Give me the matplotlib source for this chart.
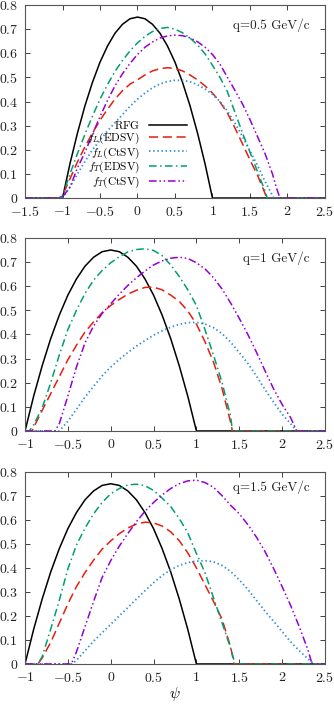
import matplotlib
matplotlib.use('Agg')
import matplotlib.pyplot as plt
import matplotlib.ticker as mticker
import numpy as np

plt.rcParams['font.family'] = ['cmr10', 'DejaVu Serif']
plt.rcParams['mathtext.fontset'] = 'cm'
plt.rcParams['axes.formatter.use_mathtext'] = True
plt.rcParams['axes.unicode_minus'] = False

# ---- data ----
# RFG scaling function (same in all panels)
RFG_PSI = [-1.0, -0.9, -0.8, -0.7, -0.6, -0.5, -0.4, -0.3, -0.2, -0.1, 0.0,
           0.1, 0.2, 0.3, 0.4, 0.5, 0.6, 0.7, 0.8, 0.9, 1.0]
RFG_F = [0.0, 0.143, 0.27, 0.383, 0.48, 0.563, 0.63, 0.683, 0.72, 0.743, 0.75,
         0.743, 0.72, 0.683, 0.63, 0.563, 0.48, 0.383, 0.27, 0.143, 0.0]

# q = 0.5 GeV/c
Q05_FLE_PSI = [-1.05, -1.0, -0.9, -0.8, -0.7, -0.6, -0.5, -0.4, -0.3, -0.2, -0.1, 0.0, 0.1, 0.2,
               0.3, 0.4, 0.5, 0.6, 0.7, 0.8, 0.9, 1.0, 1.1, 1.2, 1.3, 1.4, 1.5, 1.6, 1.7, 1.72]
Q05_FLE = [0.0, 0.01, 0.08, 0.15, 0.213, 0.27, 0.322, 0.368, 0.41, 0.445, 0.472, 0.49, 0.51, 0.527,
           0.536, 0.54, 0.537, 0.527, 0.51, 0.49, 0.465, 0.435, 0.398, 0.352, 0.29, 0.225, 0.158,
           0.095, 0.02, 0.0]
Q05_FLC_PSI = [-1.0, -0.9, -0.8, -0.7, -0.6, -0.5, -0.4, -0.3, -0.2, -0.1, 0.0, 0.1, 0.2, 0.3,
               0.4, 0.5, 0.6, 0.7, 0.8, 0.9, 1.0, 1.1, 1.2, 1.3, 1.4, 1.5, 1.6, 1.7, 1.8, 1.82]
Q05_FLC = [0.0, 0.045, 0.1, 0.152, 0.2, 0.24, 0.278, 0.312, 0.346, 0.38, 0.41, 0.435, 0.457, 0.473,
           0.483, 0.488, 0.488, 0.482, 0.47, 0.452, 0.43, 0.4, 0.36, 0.31, 0.255, 0.195, 0.135,
           0.07, 0.01, 0.0]
Q05_FTE_PSI = [-1.03, -1.0, -0.9, -0.8, -0.7, -0.6, -0.5, -0.4, -0.3, -0.2, -0.1, 0.0, 0.1, 0.2,
               0.3, 0.4, 0.5, 0.6, 0.7, 0.8, 0.9, 1.0, 1.1, 1.2, 1.3, 1.4, 1.5, 1.6, 1.7, 1.73]
Q05_FTE = [0.0, 0.01, 0.1, 0.185, 0.265, 0.34, 0.41, 0.47, 0.525, 0.57, 0.61, 0.643, 0.67, 0.69,
           0.703, 0.707, 0.7, 0.685, 0.663, 0.635, 0.598, 0.55, 0.5, 0.44, 0.355, 0.27, 0.19,
           0.11, 0.03, 0.0]
Q05_FTC_PSI = [-1.05, -1.0, -0.9, -0.8, -0.7, -0.6, -0.5, -0.4, -0.3, -0.2, -0.1, 0.0, 0.1, 0.2,
               0.3, 0.4, 0.5, 0.6, 0.7, 0.8, 0.9, 1.0, 1.1, 1.2, 1.3, 1.4, 1.5, 1.6, 1.7, 1.8,
               1.85, 1.9]
Q05_FTC = [0.0, 0.005, 0.045, 0.125, 0.19, 0.265, 0.337, 0.405, 0.465, 0.515, 0.558, 0.595,
           0.625, 0.647, 0.663, 0.672, 0.675, 0.673, 0.664, 0.648, 0.625, 0.595, 0.555, 0.5,
           0.446, 0.39, 0.325, 0.255, 0.185, 0.1, 0.045, 0.0]

# q = 1 GeV/c
Q1_FLE_PSI = [-0.92, -0.8, -0.7, -0.6, -0.5, -0.4, -0.3, -0.2, -0.1, 0.0, 0.1, 0.2, 0.3, 0.4,
              0.5, 0.6, 0.7, 0.8, 0.9, 1.0, 1.1, 1.2, 1.3, 1.4, 1.42]
Q1_FLE = [0.0, 0.085, 0.155, 0.225, 0.295, 0.355, 0.41, 0.452, 0.49, 0.52, 0.545, 0.567, 0.583,
          0.595, 0.596, 0.585, 0.563, 0.537, 0.497, 0.443, 0.37, 0.285, 0.175, 0.035, 0.0]
Q1_FLC_PSI = [-0.6, -0.5, -0.4, -0.3, -0.2, -0.1, 0.0, 0.1, 0.2, 0.3, 0.4, 0.5, 0.6, 0.7, 0.8,
              0.9, 1.0, 1.1, 1.2, 1.3, 1.4, 1.5, 1.6, 1.7, 1.8, 1.9, 2.0, 2.1, 2.17]
Q1_FLC = [0.0, 0.04, 0.09, 0.14, 0.185, 0.228, 0.265, 0.297, 0.325, 0.352, 0.375, 0.397, 0.415,
          0.43, 0.442, 0.449, 0.45, 0.443, 0.428, 0.403, 0.368, 0.325, 0.28, 0.228, 0.172, 0.12,
          0.07, 0.03, 0.0]
Q1_FTE_PSI = [-0.95, -0.9, -0.8, -0.7, -0.6, -0.5, -0.4, -0.3, -0.2, -0.1, 0.0, 0.1, 0.2, 0.3,
              0.4, 0.5, 0.6, 0.7, 0.8, 0.9, 1.0, 1.1, 1.2, 1.3, 1.4, 1.42]
Q1_FTE = [0.0, 0.025, 0.095, 0.2, 0.315, 0.42, 0.5, 0.57, 0.625, 0.665, 0.697, 0.722, 0.742,
          0.752, 0.755, 0.748, 0.727, 0.688, 0.64, 0.585, 0.52, 0.42, 0.314, 0.2, 0.06, 0.0]
Q1_FTC_PSI = [-0.65, -0.6, -0.5, -0.4, -0.3, -0.2, -0.1, 0.0, 0.1, 0.2, 0.3, 0.4, 0.5, 0.6, 0.7,
              0.8, 0.9, 1.0, 1.1, 1.2, 1.3, 1.4, 1.5, 1.6, 1.7, 1.8, 1.9, 2.0, 2.1, 2.17]
Q1_FTC = [0.0, 0.03, 0.145, 0.265, 0.365, 0.435, 0.487, 0.527, 0.567, 0.603, 0.635, 0.663, 0.688,
          0.705, 0.716, 0.72, 0.715, 0.697, 0.672, 0.635, 0.588, 0.53, 0.467, 0.4, 0.327, 0.25,
          0.175, 0.11, 0.055, 0.0]

# q = 1.5 GeV/c
Q15_FLE_PSI = [-0.85, -0.8, -0.7, -0.6, -0.5, -0.4, -0.3, -0.2, -0.1, 0.0, 0.1, 0.2, 0.3, 0.4,
               0.5, 0.6, 0.7, 0.8, 0.9, 1.0, 1.1, 1.2, 1.3, 1.4, 1.44]
Q15_FLE = [0.0, 0.025, 0.09, 0.17, 0.25, 0.322, 0.38, 0.432, 0.478, 0.512, 0.542, 0.566, 0.582,
           0.59, 0.587, 0.574, 0.55, 0.513, 0.462, 0.4, 0.33, 0.26, 0.185, 0.07, 0.0]
Q15_FLC_PSI = [-0.45, -0.4, -0.3, -0.2, -0.1, 0.0, 0.1, 0.2, 0.3, 0.4, 0.5, 0.6, 0.7, 0.8, 0.9,
               1.0, 1.1, 1.2, 1.3, 1.4, 1.5, 1.6, 1.7, 1.8, 1.9, 2.0, 2.1, 2.2, 2.3, 2.37]
Q15_FLC = [0.0, 0.015, 0.055, 0.095, 0.13, 0.165, 0.2, 0.235, 0.27, 0.305, 0.338, 0.368, 0.392,
           0.41, 0.422, 0.428, 0.43, 0.425, 0.41, 0.385, 0.35, 0.31, 0.265, 0.22, 0.178, 0.135,
           0.092, 0.055, 0.022, 0.0]
Q15_FTE_PSI = [-0.85, -0.8, -0.7, -0.6, -0.5, -0.4, -0.3, -0.2, -0.1, 0.0, 0.1, 0.2, 0.3, 0.4,
               0.5, 0.6, 0.7, 0.8, 0.9, 1.0, 1.1, 1.2, 1.3, 1.4, 1.45]
Q15_FTE = [0.0, 0.03, 0.145, 0.265, 0.395, 0.495, 0.565, 0.625, 0.672, 0.708, 0.73, 0.745, 0.748,
           0.742, 0.722, 0.69, 0.655, 0.605, 0.545, 0.46, 0.38, 0.275, 0.17, 0.065, 0.0]
Q15_FTC_PSI = [-0.46, -0.4, -0.3, -0.2, -0.1, 0.0, 0.1, 0.2, 0.3, 0.4, 0.5, 0.6, 0.7, 0.8, 0.9,
               1.0, 1.1, 1.2, 1.3, 1.4, 1.5, 1.6, 1.7, 1.8, 1.9, 2.0, 2.1, 2.2, 2.3, 2.35]
Q15_FTC = [0.0, 0.05, 0.155, 0.26, 0.36, 0.43, 0.49, 0.543, 0.592, 0.635, 0.672, 0.703, 0.73,
           0.75, 0.762, 0.765, 0.755, 0.735, 0.7, 0.66, 0.625, 0.58, 0.528, 0.468, 0.398, 0.322,
           0.243, 0.155, 0.06, 0.0]

PANEL_LABELS = ['q=0.5 GeV/c', 'q=1 GeV/c', 'q=1.5 GeV/c']
SERIES_LABELS = [r'$\mathrm{RFG}$', r'$f_L\mathrm{(EDSV)}$', r'$f_L\mathrm{(CtSV)}$',
                 r'$f_T\mathrm{(EDSV)}$', r'$f_T\mathrm{(CtSV)}$']

panels = [
    dict(xlim=(-1.5, 2.5), xticks=[-1.5, -1, -0.5, 0, 0.5, 1, 1.5, 2, 2.5],
         curves=[(Q05_FLE_PSI, Q05_FLE), (Q05_FLC_PSI, Q05_FLC),
                 (Q05_FTE_PSI, Q05_FTE), (Q05_FTC_PSI, Q05_FTC)],
         label_y=0.896),
    dict(xlim=(-1.0, 2.5), xticks=[-1, -0.5, 0, 0.5, 1, 1.5, 2, 2.5],
         curves=[(Q1_FLE_PSI, Q1_FLE), (Q1_FLC_PSI, Q1_FLC),
                 (Q1_FTE_PSI, Q1_FTE), (Q1_FTC_PSI, Q1_FTC)],
         label_y=0.896),
    dict(xlim=(-1.0, 2.5), xticks=[-1, -0.5, 0, 0.5, 1, 1.5, 2, 2.5],
         curves=[(Q15_FLE_PSI, Q15_FLE), (Q15_FLC_PSI, Q15_FLC),
                 (Q15_FTE_PSI, Q15_FTE), (Q15_FTC_PSI, Q15_FTC)],
         label_y=0.92),
]

STYLES = [
    dict(color='black', dashes=(), lw=1.1),
    dict(color='#e51e10', dashes=(6.0, 3.0), lw=1.1),
    dict(color='#2f8fd8', dashes=(0.8, 1.5), lw=1.3),
    dict(color='#009e73', dashes=(5.0, 2.2, 1.0, 2.2), lw=1.1),
    dict(color='#9400d3', dashes=(5.0, 1.8, 1.0, 1.8, 1.0, 1.8), lw=1.1),
]

# axes rectangles in figure fraction [left, bottom, width, height]
RECTS = [
    [0.0749, 0.7191, 0.898, 0.2738],
    [0.0749, 0.3887, 0.898, 0.2738],
    [0.0749, 0.0582, 0.898, 0.2727],
]

fig = plt.figure(figsize=(3.34, 7.05), dpi=100)

def _fmt(v, pos):
    return f'${v:g}$'

for i, (p, rect) in enumerate(zip(panels, RECTS)):
    ax = fig.add_axes(rect)
    xlo, xhi = p['xlim']
    all_curves = [(RFG_PSI, RFG_F)] + p['curves']
    for (psi, f), st, lab in zip(all_curves, STYLES, SERIES_LABELS):
        x = np.r_[xlo, psi, xhi]
        y = np.r_[0.0, f, 0.0]
        line, = ax.plot(x, y, color=st['color'], lw=st['lw'], label=lab)
        if st['dashes']:
            line.set_dashes(st['dashes'])
    ax.set_xlim(xlo, xhi)
    ax.set_ylim(0, 0.8)
    ax.set_xticks(p['xticks'])
    ax.set_yticks(np.arange(0, 0.81, 0.1))
    ax.xaxis.set_major_formatter(mticker.FuncFormatter(_fmt))
    ax.yaxis.set_major_formatter(mticker.FuncFormatter(_fmt))
    ax.tick_params(direction='in', top=True, right=True, length=3.5, width=0.6,
                   labelsize=10, colors='#222222')
    ax.tick_params(axis='x', pad=5)
    ax.tick_params(axis='y', pad=5)
    for s in ax.spines.values():
        s.set_linewidth(0.8)
        s.set_color('#555555')
    ax.text(0.95, p['label_y'], PANEL_LABELS[i], transform=ax.transAxes,
            ha='right', va='center', fontsize=9.5, color='#222222')
    if i == 0:
        ax.legend(loc='lower right', bbox_to_anchor=(0.565, 0.0), frameon=False,
                  markerfirst=False, fontsize=8.2, handlelength=3.3, labelspacing=-0.05,
                  handletextpad=0.8, borderpad=0.2)
    if i == 2:
        ax.set_xlabel(r'$\psi$', fontsize=11, labelpad=0)

fig.savefig('out.png', dpi=100)
